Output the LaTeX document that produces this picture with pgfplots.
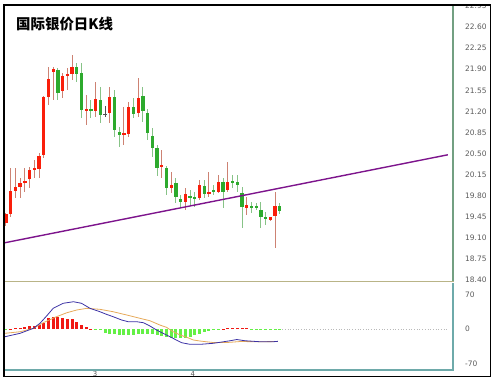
\documentclass[border=0pt]{standalone}
\usepackage{fontspec}
\usepackage{pgfplots}
\usepackage{pgfplotstable}
\pgfplotsset{compat=1.18}
\newfontfamily\cjk{Noto Sans CJK SC}
\newfontfamily\tickfont{DejaVu Sans}
\definecolor{upbody}{RGB}{250,30,10}
\definecolor{upwick}{RGB}{205,130,115}
\definecolor{dnbody}{RGB}{45,170,45}
\definecolor{dnwick}{RGB}{135,195,135}
\definecolor{dojic}{RGB}{80,80,80}
\definecolor{trend}{RGB}{125,20,140}
\definecolor{tickgray}{RGB}{90,90,90}
\definecolor{priceedge}{RGB}{115,160,130}
\definecolor{oline}{RGB}{185,180,135}
\definecolor{tline}{RGB}{110,170,170}
\definecolor{histred}{RGB}{240,25,20}
\definecolor{histgreen}{RGB}{100,240,70}
\definecolor{difblue}{RGB}{60,50,165}
\definecolor{deaorange}{RGB}{230,170,90}

\pgfplotstableread{
i O H L C
0 19.34 19.52 19.29 19.50
1 19.50 20.26 19.45 19.88
2 19.88 20.26 19.76 19.95
3 19.94 20.09 19.76 20.01
4 20.02 20.26 19.86 20.05
5 20.07 20.28 19.93 20.22
6 20.23 20.39 20.09 20.26
7 20.24 20.51 20.09 20.46
8 20.48 21.46 20.43 21.44
9 21.44 21.94 21.31 21.74
10 21.85 21.94 21.39 21.90
12 21.54 21.84 21.42 21.79
13 21.80 21.92 21.56 21.82
14 21.82 22.14 21.72 21.94
17 21.21 21.47 20.97 21.24
19 21.20 21.69 21.11 21.41
22 21.17 21.61 21.01 21.44
25 20.81 21.28 20.64 20.84
26 20.82 21.36 20.78 21.27
28 21.18 21.75 21.11 21.42
33 20.27 20.56 20.09 20.31
35 19.93 20.20 19.85 19.98
38 19.70 19.93 19.56 19.83
41 19.77 20.06 19.73 19.98
43 19.83 20.20 19.78 19.87
45 19.87 20.14 19.85 20.03
47 19.90 20.36 19.87 20.03
51 19.60 19.78 19.48 19.65
56 19.40 19.45 19.38 19.44
57 19.46 19.87 18.94 19.63
}\upc

\pgfplotstableread{
i O H L C
11 21.88 21.92 21.39 21.51
15 21.94 22.00 21.69 21.82
16 21.83 22.00 21.09 21.22
18 21.24 21.39 21.09 21.21
20 21.39 21.61 21.01 21.14
23 21.44 21.56 20.78 20.89
24 20.86 20.94 20.61 20.81
27 21.27 21.42 21.09 21.16
29 21.46 21.61 21.03 21.20
30 21.17 21.24 20.73 20.84
31 20.79 20.92 20.45 20.59
32 20.59 20.64 20.12 20.26
34 20.26 20.29 19.81 19.93
36 20.01 20.09 19.68 19.78
37 19.75 19.81 19.62 19.70
39 19.78 19.90 19.65 19.77
40 19.78 19.87 19.62 19.76
42 19.96 20.06 19.76 19.83
44 19.90 19.98 19.81 19.87
46 20.03 20.09 19.60 19.87
48 20.03 20.14 19.93 20.02
49 20.03 20.14 19.87 19.98
50 19.84 19.95 19.26 19.61
52 19.63 19.70 19.51 19.61
53 19.62 19.68 19.56 19.60
54 19.56 19.70 19.26 19.45
55 19.44 19.53 19.31 19.42
58 19.63 19.68 19.50 19.55
}\dnc

\pgfplotstableread{
i O H L C
21 21.15 21.29 21.11 21.15
}\doji

\pgfplotstableread{
i v
1 1.0
2 2.0
3 3.0
4 4.1
5 5.5
6 6.7
7 8.1
8 11.6
9 21.7
10 23.8
11 25.0
12 21.7
13 20.3
14 19.7
15 14.8
16 8.1
17 3.5
18 0.6
46 0.6
47 1.4
48 2.4
49 3.0
50 2.4
51 1.4
}\hpos

\pgfplotstableread{
i v
0 -1.0
19 -1.0
20 -2.0
21 -8.7
22 -10.2
23 -10.2
24 -11.2
25 -11.2
26 -11.2
27 -11.2
28 -10.2
29 -9.1
30 -9.1
31 -9.1
32 -11.2
33 -13.2
34 -15.2
35 -17.3
36 -18.3
37 -18.3
38 -17.3
39 -15.2
40 -12.2
41 -9.1
42 -6.1
43 -4.1
44 -2.0
45 -1.0
52 -0.6
53 -1.0
54 -1.0
55 -1.0
56 -1.0
57 -1.0
58 -1.0
}\hneg

\begin{document}
\begin{tikzpicture}[x=1bp,y=1bp]
\path[use as bounding box] (0,0) rectangle (495,383);

% ---------- price panel ----------
\begin{axis}[
  name=price,
  at={(4bp,101bp)}, anchor=south west, scale only axis,
  width=449bp, height=277bp, clip=false,
  xmin=-0.42, xmax=94.7, ymin=18.368, ymax=22.967,
  axis line style={draw=none},
  xtick=\empty,
  ytick={18.40,18.75,19.10,19.45,19.80,20.15,20.50,20.85,21.20,21.55,21.90,22.25,22.60,22.95},
  yticklabels={18.40,18.75,19.10,19.45,19.80,20.15,20.50,20.85,21.20,21.55,21.90,22.25,22.60,22.95},
  yticklabel pos=right,
  major tick length=0pt,
  yticklabel style={anchor=west, inner sep=0pt, xshift=12bp,
    font=\tickfont\fontsize{7.5}{7.5}\selectfont, text=tickgray},
]
% wicks
\addplot[forget plot, draw=none, mark=none,
  error bars/.cd, y dir=both, y explicit, error mark=none,
  error bar style={line width=1bp, draw=upwick}]
  table[x=i, y expr=(\thisrow{H}+\thisrow{L})/2, y error expr=(\thisrow{H}-\thisrow{L})/2]{\upc};
\addplot[forget plot, draw=none, mark=none,
  error bars/.cd, y dir=both, y explicit, error mark=none,
  error bar style={line width=1bp, draw=dnwick}]
  table[x=i, y expr=(\thisrow{H}+\thisrow{L})/2, y error expr=(\thisrow{H}-\thisrow{L})/2]{\dnc};
\addplot[forget plot, draw=none, mark=none,
  error bars/.cd, y dir=both, y explicit, error mark=none,
  error bar style={line width=1bp, draw=dojic}]
  table[x=i, y expr=(\thisrow{H}+\thisrow{L})/2, y error expr=(\thisrow{H}-\thisrow{L})/2]{\doji};
% bodies
\addplot[forget plot, draw=none, mark=none,
  error bars/.cd, y dir=both, y explicit, error mark=none,
  error bar style={line width=3.3bp, draw=upbody}]
  table[x=i, y expr=(\thisrow{O}+\thisrow{C})/2, y error expr={max(abs(\thisrow{C}-\thisrow{O})/2,0.013)}]{\upc};
\addplot[forget plot, draw=none, mark=none,
  error bars/.cd, y dir=both, y explicit, error mark=none,
  error bar style={line width=3.3bp, draw=dnbody}]
  table[x=i, y expr=(\thisrow{O}+\thisrow{C})/2, y error expr={max(abs(\thisrow{C}-\thisrow{O})/2,0.013)}]{\dnc};
\addplot[forget plot, draw=none, mark=none,
  error bars/.cd, y dir=both, y explicit, error mark=none,
  error bar style={line width=3.3bp, draw=dojic}]
  table[x=i, y expr=(\thisrow{O}+\thisrow{C})/2, y error expr={max(abs(\thisrow{C}-\thisrow{O})/2,0.013)}]{\doji};
% trend line
\addplot[trend, line width=1.4bp, mark=none] coordinates {(-0.42,19.017) (93.6,20.48)};
\end{axis}

% ---------- MACD panel ----------
\begin{axis}[
  name=macd,
  at={(4bp,13bp)}, anchor=south west, scale only axis,
  width=449bp, height=87bp, clip=false,
  xmin=-0.42, xmax=94.7, ymin=-83.2, ymax=93.4,
  axis line style={draw=none},
  xtick={18.9,39.6}, xticklabels={3,4},
  ytick={-70,0,70}, yticklabels={-70,0,70},
  yticklabel pos=right,
  major tick length=0pt,
  yticklabel style={anchor=west, inner sep=0pt, xshift=12bp,
    font=\tickfont\fontsize{7.5}{7.5}\selectfont, text=tickgray},
  xticklabel style={anchor=north, inner sep=0pt, yshift=-1.5bp,
    font=\tickfont\fontsize{7}{7}\selectfont, text=tickgray},
]
\addplot[ycomb, histred, line width=3bp, mark=none] table[x=i,y=v]{\hpos};
\addplot[ycomb, histgreen, line width=3bp, mark=none] table[x=i,y=v]{\hneg};
\addplot[gray!55, dotted, line width=0.7bp, mark=none] coordinates {(58.5,0) (93.6,0)};
\addplot[deaorange, line width=0.8bp, mark=none] coordinates {
(-0.2,-8.7) (3.0,-5.5) (5.8,1.4) (7.9,12.8) (10.7,25.0) (12.9,33.1) (15.0,38.6)
(17.1,42.0) (19.9,40.0) (22.7,35.1) (25.6,28.4) (28.4,21.7) (30.5,16.8)
(32.6,8.1) (34.0,3.5) (35.4,-5.5) (36.9,-12.2) (38.3,-16.8) (39.7,-22.3)
(41.1,-24.4) (43.9,-27.4) (46.8,-27.4) (49.6,-25.4) (53.8,-25.8) (57.6,-25.4)};
\addplot[difblue, line width=0.8bp, mark=none] coordinates {
(-0.2,-15.6) (3.0,-8.7) (5.8,1.4) (7.2,11.6) (8.6,26.4) (10.0,42.0) (12.1,52.2)
(14.3,55.4) (16.0,52.2) (17.8,42.0) (19.9,35.1) (21.3,29.8) (22.7,25.0)
(24.5,18.3) (25.9,14.8) (27.7,14.8) (29.1,12.8) (30.5,6.1) (31.9,-2.0)
(33.3,-8.7) (35.4,-18.9) (37.2,-27.8) (39.0,-31.1) (41.1,-31.1) (43.9,-29.0)
(45.3,-27.0) (47.5,-23.8) (48.9,-21.3) (50.6,-23.8) (53.8,-25.8) (56.6,-25.8) (57.6,-25.0)};
\end{axis}

% panel borders
\fill[priceedge] (451.8,101) rectangle (453.8,377.5);
\fill[oline] (4,100.6) rectangle (453.8,101.6);
\fill[tline] (452,13) rectangle (453.6,100.4);
\fill[tline] (4,12.4) rectangle (453.6,13.8);

% title and frame
\node[anchor=base west, inner sep=0pt, font=\cjk\bfseries\fontsize{14.5}{14.5}\selectfont] at (16,354) {国际银价日K线};
\fill[white] (0,378) rectangle (495,383);
\draw[black, line width=1.3bp] (4,6.3) rectangle (490.7,378);
\end{tikzpicture}
\end{document}
